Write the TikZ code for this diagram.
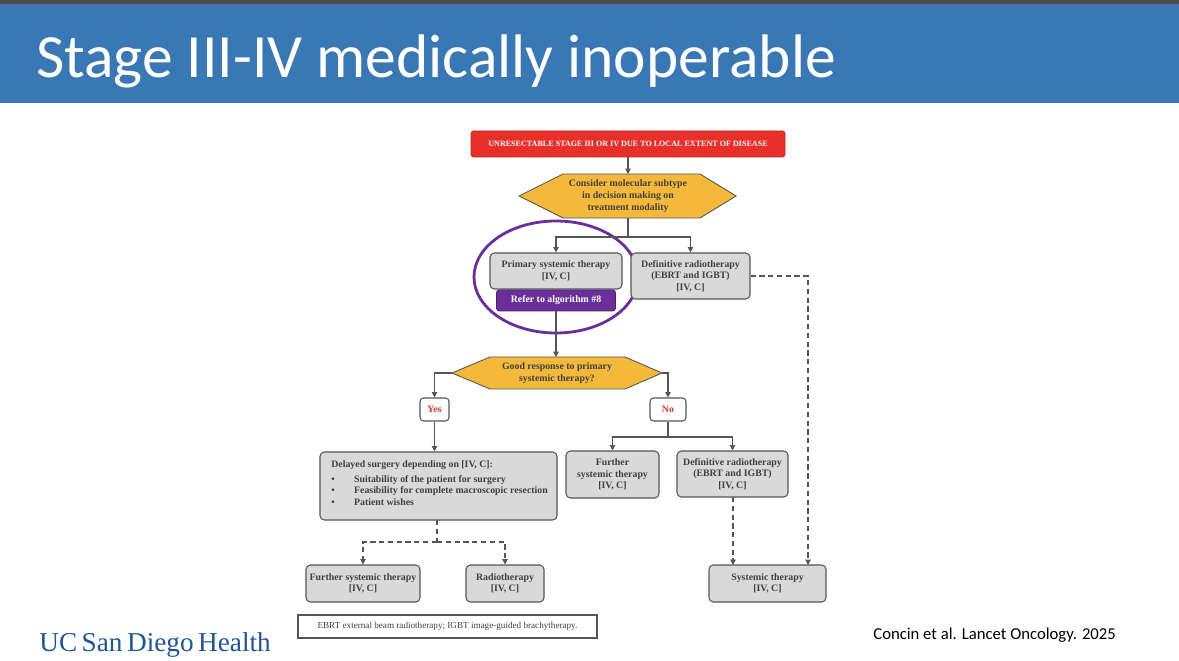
\documentclass[tikz,border=0pt]{standalone}
\usepackage{fontspec}
\setmainfont{Liberation Serif}
\newfontfamily\titlefont{Carlito}
\usetikzlibrary{arrows.meta}
\definecolor{hdr}{HTML}{3A78B5}
\definecolor{boxg}{HTML}{D9D9D9}
\definecolor{edg}{HTML}{555555}
\definecolor{txt}{HTML}{404040}
\definecolor{hexy}{HTML}{F4B93A}
\definecolor{redb}{HTML}{E8302A}
\definecolor{purp}{HTML}{6A2F9A}
\definecolor{ucsd}{HTML}{1F5596}
\newcommand\bk{\\{}}
\tikzset{
 x=0.02cm,y=-0.02cm,
 gbox/.style={draw=edg,fill=boxg,rounded corners=2.5pt,line width=0.6pt,text=txt,font=\fontsize{5.6}{6.6}\selectfont\bfseries,align=center,inner sep=0pt},
 arr/.style={draw=edg,line width=0.6pt,-{Triangle[length=3pt,width=3pt]}},
 darr/.style={arr,dash pattern=on 3pt off 2pt},
 ln/.style={draw=edg,line width=0.6pt},
 dln/.style={ln,dash pattern=on 3pt off 2pt},
 hext/.style={text=txt,font=\fontsize{5.6}{6.8}\selectfont\bfseries,align=center},
 hexf/.style={fill=hexy,draw=edg,line width=0.5pt},
}
\begin{document}
\begin{tikzpicture}
\useasboundingbox (0,0) rectangle (1179,661);
\fill[white] (0,0) rectangle (1179,661);
\fill[gray!60!black] (0,0) rectangle (1179,4);
\fill[hdr] (0,4) rectangle (1179,103);
\node[anchor=base west,text=white,font=\titlefont\fontsize{35}{40}\selectfont,inner sep=0pt] (title) at (36,78) {Stage III-IV medically inoperable};

\node[fill=redb,draw=redb!80!black,rounded corners=1.5pt,minimum width=314*0.02cm,minimum height=26*0.02cm,text=white,font=\fontsize{4.6}{5}\selectfont\bfseries,inner sep=0pt] (top) at (628,144) {UNRESECTABLE STAGE III OR IV DUE TO LOCAL EXTENT OF DISEASE};
\fill[hexf] (519,196)--(563,174)--(700,174)--(736,196)--(700,218)--(563,218)--cycle;
\node[hext] (h1) at (628,196) {Consider molecular subtype\\in decision making on\\treatment modality};
\draw[arr] (top) -- (628,174);

\node[gbox,minimum width=132*0.02cm,minimum height=36*0.02cm] (pst) at (556,271) {Primary systemic therapy\bk[IV, C]};
\node[fill=purp,draw=purp!70!black,rounded corners=1.5pt,minimum width=119*0.02cm,minimum height=21*0.02cm,text=white,font=\fontsize{5.6}{6}\selectfont\bfseries,inner sep=0pt] (ref) at (556,300.5) {Refer to algorithm \#8};
\draw[purp,line width=1.6pt] (556,277) ellipse [x radius=82*0.02cm, y radius=56*0.02cm];
\node[gbox,minimum width=119*0.02cm,minimum height=46*0.02cm] (dr1) at (690.5,276) {Definitive radiotherapy\\(EBRT and IGBT)\bk[IV, C]};
\draw[ln] (628,218) -- (628,237) coordinate (b1);
\draw[arr] (b1) -| (pst.north);
\draw[arr] (b1) -| (dr1.north);

\fill[hexf] (452,373)--(490,357)--(625,357)--(662,373)--(625,389)--(490,389)--cycle;
\node[hext] (h2) at (557,373) {Good response to primary\\systemic therapy?};
\draw[arr] (ref.south) -- (556,357);

\node[draw=edg,fill=white,rounded corners=2pt,line width=0.6pt,minimum width=29*0.02cm,minimum height=23*0.02cm,text=redb,font=\fontsize{5.6}{6}\selectfont\bfseries,inner sep=0pt] (yes) at (434.5,409.5) {Yes};
\node[draw=edg,fill=white,rounded corners=2pt,line width=0.6pt,minimum width=36*0.02cm,minimum height=23*0.02cm,text=redb,font=\fontsize{5.6}{6}\selectfont\bfseries,inner sep=0pt] (no) at (668,409.5) {No};
\draw[arr] (452,373) -| (yes.north);
\draw[arr] (662,373) -| (no.north);

\node[gbox,minimum width=237*0.02cm,minimum height=68*0.02cm] (del) at (438.5,486) {};
\node[anchor=north west,text=txt,font=\fontsize{5.6}{6.6}\selectfont\bfseries,align=left,inner sep=0pt] (delt) at (331,460) {Delayed surgery depending on [IV, C]:\\[2pt]
\textbullet\hspace{11pt}Suitability of the patient for surgery\\
\textbullet\hspace{11pt}Feasibility for complete macroscopic resection\\
\textbullet\hspace{11pt}Patient wishes};
\draw[arr] (yes.south) -- (yes.south |- del.north);

\node[gbox,minimum width=93*0.02cm,minimum height=47*0.02cm] (fst) at (612.5,474.5) {Further\\systemic therapy\bk[IV, C]};
\node[gbox,minimum width=111*0.02cm,minimum height=46*0.02cm] (dr2) at (732.5,474) {Definitive radiotherapy\\(EBRT and IGBT)\bk[IV, C]};
\draw[ln] (no.south) -- (668,437) coordinate (b2);
\draw[arr] (b2) -| (fst.north);
\draw[arr] (b2) -| (dr2.north);

\node[gbox,minimum width=114*0.02cm,minimum height=37*0.02cm] (fst2) at (363,583.5) {Further systemic therapy\bk[IV, C]};
\node[gbox,minimum width=78*0.02cm,minimum height=37*0.02cm] (rt) at (505,583.5) {Radiotherapy\bk[IV, C]};
\node[gbox,minimum width=117*0.02cm,minimum height=37*0.02cm] (sys) at (767.5,583.5) {Systemic therapy\bk[IV, C]};
\draw[dln] (437,520) -- (437,542) coordinate (b3);
\draw[darr] (b3) -| (fst2.north);
\draw[darr] (b3) -| (rt.north);
\draw[darr] (733,497) -- (733,565);
\draw[darr] (dr1.east) -| (808,565);

\node[draw=edg,fill=white,line width=0.6pt,minimum width=299*0.02cm,minimum height=23*0.02cm,text=txt,font=\fontsize{5.2}{6}\selectfont,inner sep=0pt] (fn) at (447.5,626.5) {EBRT external beam radiotherapy; IGBT image-guided brachytherapy.};

\node[anchor=base west,text=ucsd,font=\fontsize{15.5}{18}\selectfont,inner sep=0pt] (logo) at (39,651) {UC\,San\,Diego\,Health};
\node[anchor=base west,text=black,font=\titlefont\fontsize{9.5}{11}\selectfont,inner sep=0pt] (cite) at (873,639) {Concin et al. Lancet Oncology. 2025};
\end{tikzpicture}
\end{document}
